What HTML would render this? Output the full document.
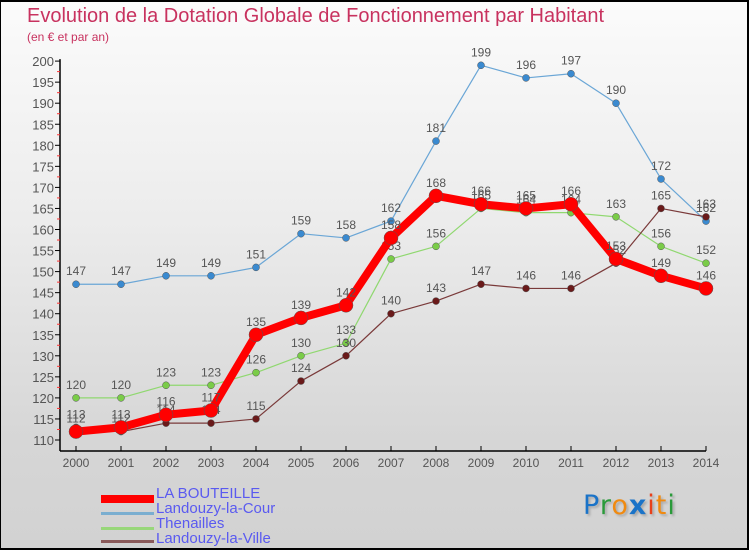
<!DOCTYPE html>
<html><head><meta charset="utf-8"><style>
html,body{margin:0;padding:0}
body{width:750px;height:550px;overflow:hidden;font-family:"Liberation Sans",sans-serif}
#wrap{position:relative;width:746px;height:546px;border:2px solid #000;border-left:1px solid #000;background:linear-gradient(#fbfbfb 0%,#ececec 40%,#d6d6d6 80%,#d2d2d2 100%)}
.title{position:absolute;left:26px;top:3px;font-size:20px;color:#c8325f;white-space:nowrap}
.sub{position:absolute;left:26px;top:28px;font-size:12px;color:#c8325f}
.leg{position:absolute;left:100px;width:200px;height:14px}
.leg .sw{position:absolute;left:0;width:53px}
.leg .t{position:absolute;left:55px;top:-7px;font-size:15px;color:#5a5af0;white-space:nowrap}
</style></head><body>
<div id="wrap">
<div class="title">Evolution de la Dotation Globale de Fonctionnement par Habitant</div>
<div class="sub">(en € et par an)</div>
<svg id="chart" width="750" height="550" style="position:absolute;left:-1px;top:-2px"></svg>
<div class="leg" style="top:490px"><div class="sw" style="top:3px;height:8px;background:#f00"></div><div class="t">LA BOUTEILLE</div></div>
<div class="leg" style="top:505px"><div class="sw" style="top:5px;height:3px;background:#7aaed0"></div><div class="t">Landouzy-la-Cour</div></div>
<div class="leg" style="top:520px"><div class="sw" style="top:5px;height:3px;background:#98d77a"></div><div class="t">Thenailles</div></div>
<div class="leg" style="top:535px"><div class="sw" style="top:3px;height:3px;background:#8a5a5a"></div><div class="t">Landouzy-la-Ville</div></div>
<div style="position:absolute;left:582px;top:488px;font-size:27px;font-family:'DejaVu Sans',sans-serif;text-shadow:2px 2px 2px #aaa;letter-spacing:1px"><span style="color:#1a73c8">P</span><span style="color:#2a9a3a">r</span><span style="color:#f08a10">o</span><span style="color:#1a73c8;font-weight:bold">x</span><span style="color:#e8401a">i</span><span style="color:#f08a10">t</span><span style="color:#2a9a3a">i</span></div>
</div>
<script>
const years=[2000,2001,2002,2003,2004,2005,2006,2007,2008,2009,2010,2011,2012,2013,2014];
const bouteille=[112,113,116,117,135,139,142,158,168,166,165,166,153,149,146];
const lacour=[147,147,149,149,151,159,158,162,181,199,196,197,190,172,162];
const thenailles=[120,120,123,123,126,130,133,153,156,165,164,164,163,156,152];
const laville=[113,112,114,114,115,124,130,140,143,147,146,146,152,165,163];
const yTicks=[110,115,120,125,130,135,140,145,150,155,160,165,170,175,180,185,190,195,200];
const svg=document.getElementById('chart');
const NS='http://www.w3.org/2000/svg';
const x=i=>76+i*45;
const y=v=>440-(v-110)*4.21;
function mk(t,a){const e=document.createElementNS(NS,t);for(const k in a)e.setAttribute(k,a[k]);svg.appendChild(e);return e;}
let ax=mk('line',{x1:60,y1:y(200)-2,x2:60,y2:451,stroke:'#000','stroke-width':1.5});


let bx=mk('line',{x1:60,y1:451,x2:706,y2:451,stroke:'#000','stroke-width':1.5});


yTicks.forEach(v=>{
  const tk=mk('line',{x1:55,x2:60,y1:y(v),y2:y(v),stroke:'#000'});
  
  
  if(v<200){
    const m=mk('line',{x1:57,x2:60,y1:y(v+2.5),y2:y(v+2.5),stroke:'#f33'});
    
    
  }
  const t=mk('text',{x:54,y:y(v)+5,'text-anchor':'end','font-size':13,fill:'#555'});
  t.textContent=v;
  
  
});
years.forEach((yr,i)=>{
  const tk=mk('line',{x1:x(i),x2:x(i),y1:446,y2:451,stroke:'#000'});
  
  
  const t=mk('text',{x:x(i),y:467,'text-anchor':'middle','font-size':12,fill:'#555'});
  t.textContent=yr;
  
  
});
function series(d,color,dot,w,r,name){
  const p=mk('polyline',{points:d.map((v,i)=>x(i)+','+y(v)).join(' '),fill:'none',stroke:color,'stroke-width':w,'stroke-linejoin':'round'});
  
  
  d.forEach((v,i)=>{
    const c=mk('circle',{cx:x(i),cy:y(v),r:r,fill:dot,stroke:'#555','stroke-width':0.5});
    
    
    const t=mk('text',{x:x(i),y:y(v)-9,'text-anchor':'middle','font-size':12,fill:'#555'});
    t.textContent=v;
    
    
  });
}
series(lacour,'#6aa6d6','#3a8ad0',1.2,3.5,'landouzy-la-cour');
series(thenailles,'#90d870','#7acc48',1.2,3.5,'thenailles');
series(laville,'#7a3a3a','#6a1a1a',1.2,3.5,'landouzy-la-ville');
series(bouteille,'#f00','#f00',8,7,'la-bouteille');
</script>
</body></html>
